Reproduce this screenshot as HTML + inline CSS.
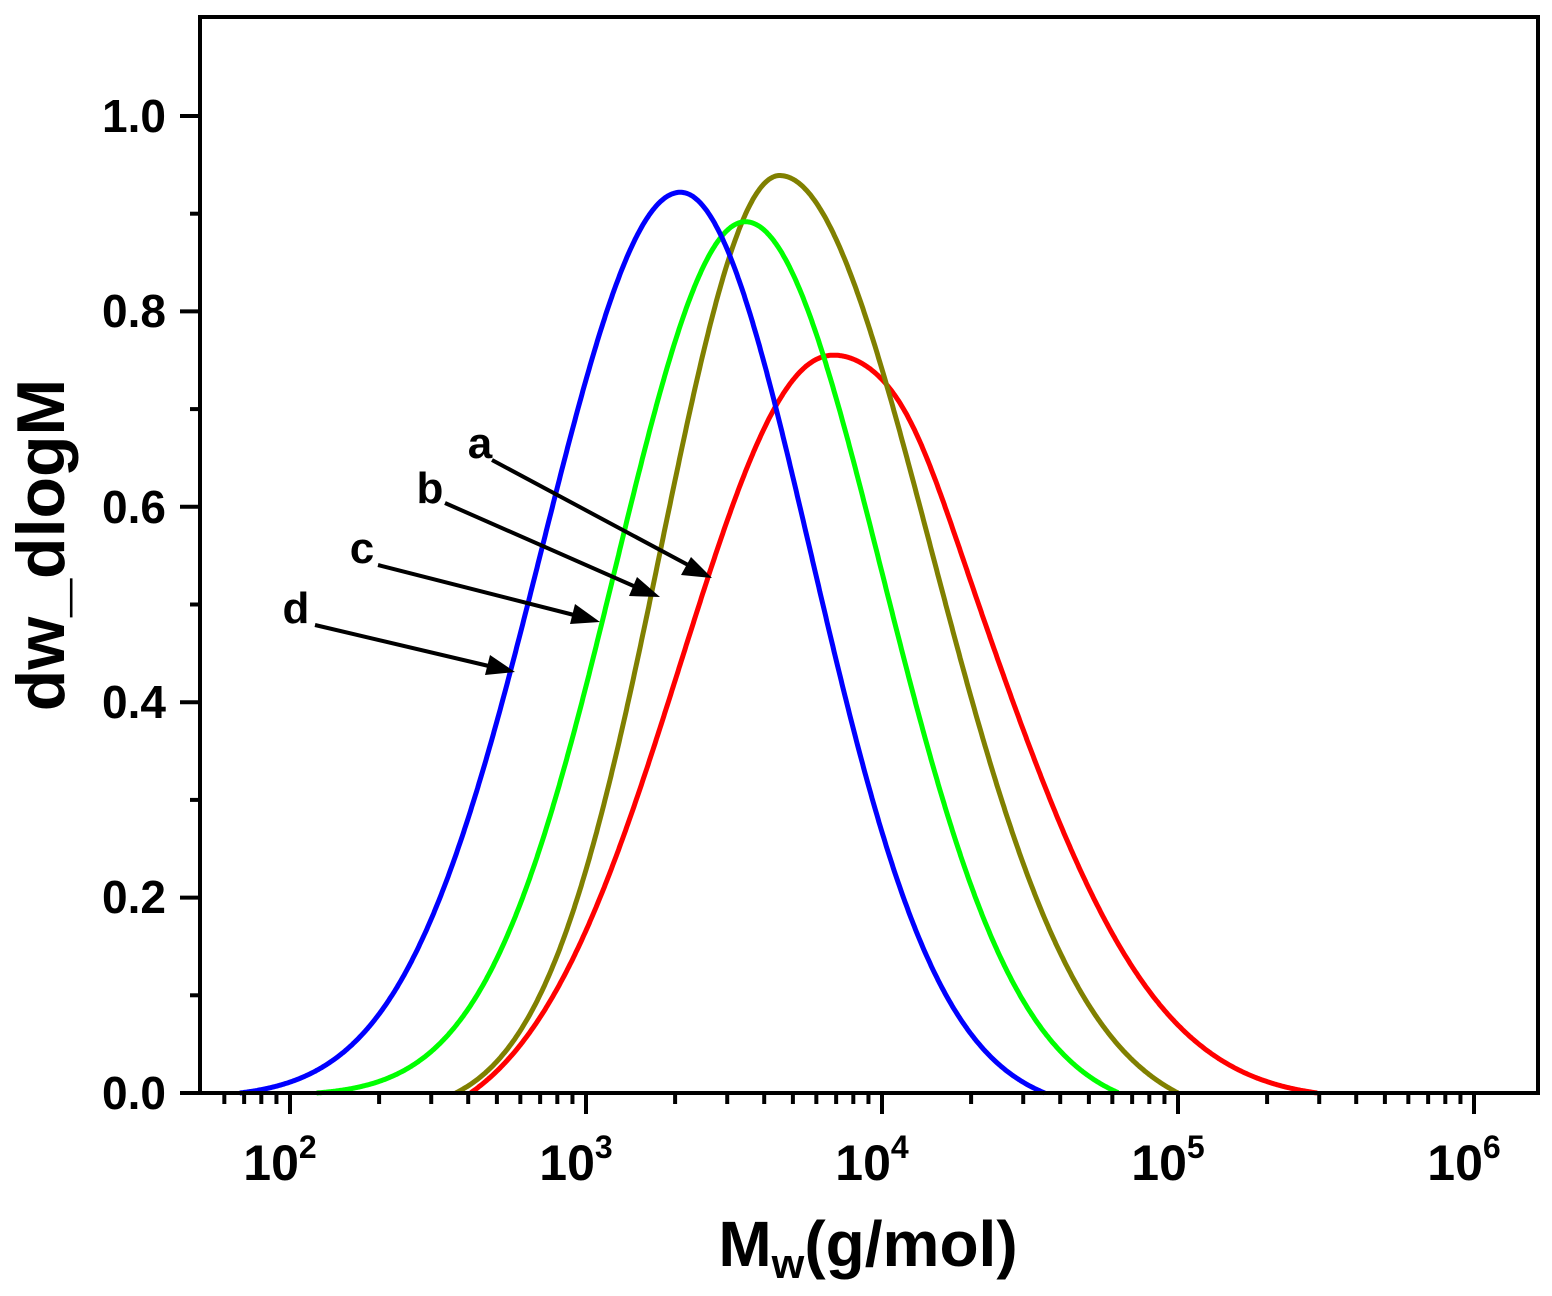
<!DOCTYPE html>
<html><head><style>body{margin:0;background:#fff}svg{display:block}</style></head>
<body>
<svg id="s" width="1552" height="1296" xmlns="http://www.w3.org/2000/svg" font-family="Liberation Sans, Arial, sans-serif" font-weight="bold">
<rect width="1552" height="1296" fill="#fff"/>
<g id="curves" fill="none" stroke-width="5" stroke-linejoin="round"></g>
<g id="ticks" stroke="#000" stroke-width="4"></g>
<rect x="200" y="17" width="1338" height="1076" fill="none" stroke="#000" stroke-width="4"/>
<g font-size="46" text-anchor="end">
<text x="166" y="1109">0.0</text><text x="166" y="913">0.2</text><text x="166" y="718">0.4</text><text x="166" y="523">0.6</text><text x="166" y="327">0.8</text><text x="166" y="132">1.0</text>
</g>
<g font-size="50" text-anchor="middle">
<text x="280" y="1180">10<tspan font-size="32" dy="-22">2</tspan></text>
<text x="576" y="1180">10<tspan font-size="32" dy="-22">3</tspan></text>
<text x="872" y="1180">10<tspan font-size="32" dy="-22">4</tspan></text>
<text x="1168" y="1180">10<tspan font-size="32" dy="-22">5</tspan></text>
<text x="1464" y="1180">10<tspan font-size="32" dy="-22">6</tspan></text>
</g>
<text x="868" y="1266" font-size="64" text-anchor="middle">M<tspan font-size="42" dy="12">w</tspan><tspan dy="-12">(g/mol)</tspan></text>
<text transform="translate(64,545) rotate(-90)" font-size="68" text-anchor="middle">dw_dlogM</text>
<g font-size="44" text-anchor="middle">
<text x="480" y="458">a</text><text x="430" y="503">b</text><text x="362" y="563">c</text><text x="296" y="623">d</text>
</g>
<g stroke="#000" stroke-width="4">
<line x1="492" y1="460" x2="690" y2="566"/><line x1="445" y1="503" x2="638" y2="588"/><line x1="378" y1="565" x2="578" y2="616"/><line x1="315" y1="625" x2="493" y2="667"/>
</g>
<g fill="#000">
<polygon points="712,578 681,575 691,557"/>
<polygon points="660,597 629,596 637,577"/>
<polygon points="600,622 570,624 575,604"/>
<polygon points="515,672 485,675 490,655"/>
</g>
</svg>
<script>
var X=l=>290+(l-2)*296, Y=v=>1093-v*977;
var t=document.getElementById('ticks'),h='';
for(var d=1;d<=6;d++)for(var k=1;k<10;k++){var l=d+Math.log10(k);var x=X(l);if(x<201||x>1537)continue;h+='<line x1="'+x+'" y1="1093" x2="'+x+'" y2="'+(k==1?1114:1104)+'"/>';}
for(var i=0;i<=10;i++){var y=Y(i/10);h+='<line x1="200" y1="'+y+'" x2="'+(i%2?190:180)+'" y2="'+y+'"/>';}
t.innerHTML=h;
function c(col,pk,mu,sl,sr,a,b,sh){var p='';for(var l=a;l<=b;l+=0.004){var s=l<mu?sl:sr;var v=pk*Math.exp(-0.5*Math.pow((l-mu)/s,2));if(sh)v+=sh*Math.exp(-0.5*Math.pow((l-4.1)/0.12,2));var e=pk*Math.exp(-0.5*Math.pow((a-mu)/sl,2));var f=pk*Math.exp(-0.5*Math.pow((b-mu)/sr,2));var w=(l-a)/(b-a);v=v-(e*(1-w)+f*w);if(v<0)v=0;p+=(p?'L':'M')+X(l).toFixed(1)+','+Y(Math.max(0,v)).toFixed(1);}return '<path stroke="'+col+'" d="'+p+'"/>';}
document.getElementById('curves').innerHTML=
c('#ff0000',0.782,3.82,0.50,0.56,2.61,5.47,0.02)+
c('#808000',0.965,3.655,0.40,0.51,2.56,5.0)+
c('#00ff00',0.905,3.54,0.44,0.46,2.09,4.8)+
c('#0000ff',0.935,3.32,0.47,0.44,1.83,4.55);
</script>
</body></html>
